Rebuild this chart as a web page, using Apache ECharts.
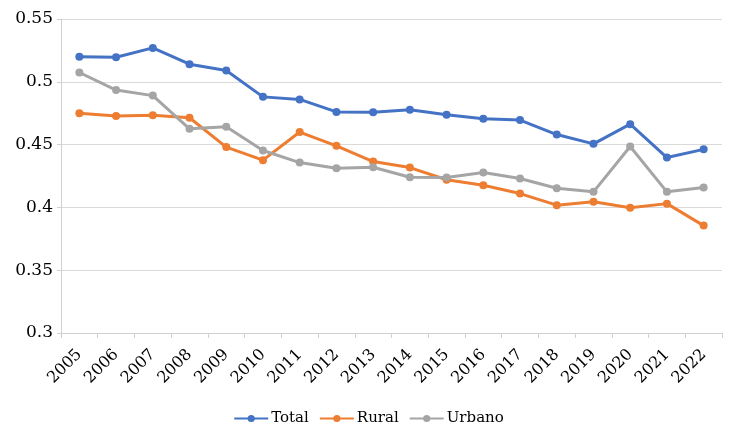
<!DOCTYPE html>
<html>
<head>
<meta charset="utf-8">
<script src="https://cdn.jsdelivr.net/npm/echarts@6/dist/echarts.min.js"></script>
<style>html,body{margin:0;padding:0;background:#fff}#c{width:737px;height:433px}</style>
</head>
<body>
<div id="c"></div>
<script>
var years = ['2005','2006','2007','2008','2009','2010','2011','2012','2013','2014','2015','2016','2017','2018','2019','2020','2021','2022'];
var total = [0.520,0.5195,0.527,0.514,0.509,0.488,0.486,0.476,0.4758,0.4777,0.4737,0.4705,0.4695,0.458,0.4506,0.4663,0.4397,0.4462];
var rural = [0.475,0.4728,0.4733,0.4714,0.448,0.4376,0.460,0.449,0.4365,0.4317,0.422,0.4177,0.411,0.4018,0.4045,0.3998,0.4030,0.3855];
var urbano = [0.5074,0.4934,0.489,0.4626,0.4642,0.4453,0.4357,0.4312,0.432,0.424,0.4238,0.4278,0.423,0.4153,0.4124,0.4485,0.4124,0.4158];
var yTicks = {min:0.3, max:0.55, interval:0.05};

var font = 'DejaVu Serif';
var chart = echarts.init(document.getElementById('c'));
function mk(name, data, color){
  return {name:name, type:'line', data:data, symbol:'circle', symbolSize:8,
    lineStyle:{width:3, color:color}, itemStyle:{color:color}};
}
chart.setOption({
  animation:false,
  color:['#4472C4','#ED7D31','#A5A5A5'],
  grid:{left:61, right:15, top:19, bottom:100},
  legend:{bottom:2, left:'center', itemWidth:34, itemHeight:9, itemGap:10,
    textStyle:{fontFamily:font, fontSize:15, color:'#000', padding:[0,0,0,-2]},
    data:['Total','Rural','Urbano']},
  xAxis:{type:'category', data:years, boundaryGap:true,
    axisLine:{lineStyle:{color:'#D0D0D0'}},
    axisTick:{show:true, alignWithLabel:false, length:5, lineStyle:{color:'#D0D0D0'}},
    axisLabel:{rotate:45, interval:0, margin:19, fontFamily:font, fontSize:16, color:'#000'}},
  yAxis:{type:'value', min:yTicks.min, max:yTicks.max, interval:yTicks.interval,
    axisLine:{show:true, lineStyle:{color:'#D0D0D0'}},
    axisTick:{show:true, length:4, lineStyle:{color:'#D0D0D0'}},
    splitLine:{lineStyle:{color:'#D9D9D9'}},
    axisLabel:{margin:8, fontFamily:font, fontSize:17, color:'#000'}},
  series:[mk('Total', total, '#4472C4'), mk('Rural', rural, '#ED7D31'), mk('Urbano', urbano, '#A5A5A5')]
});
</script>
</body>
</html>
